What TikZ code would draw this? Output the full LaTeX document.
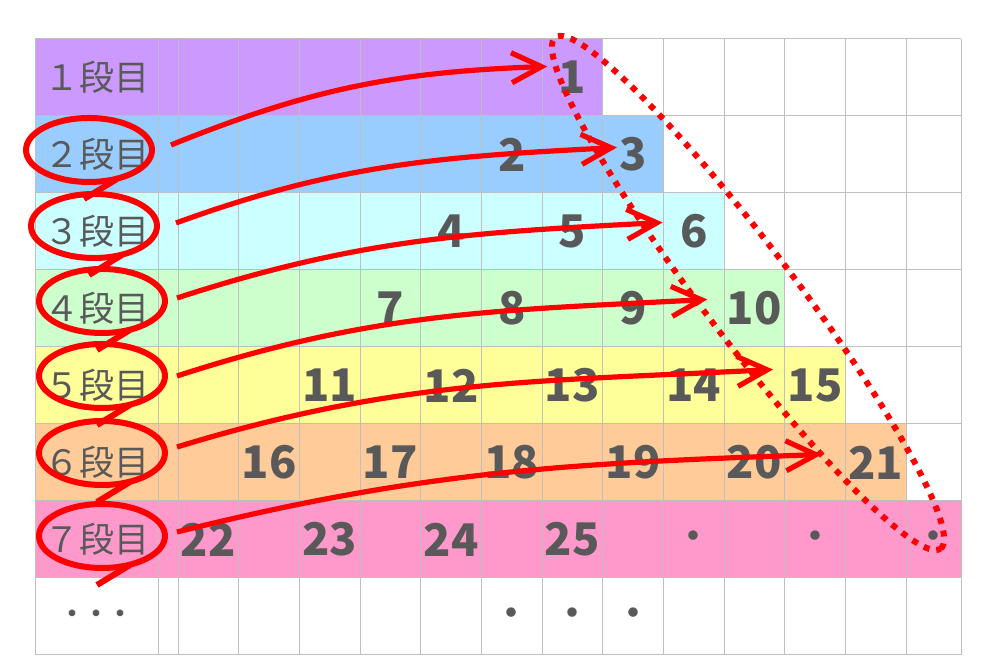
\documentclass[tikz,border=0pt]{standalone}
\usepackage{fontspec}
\setmainfont{Noto Sans CJK JP}
\usepackage{xcolor}
\usepackage{tikz}
\usetikzlibrary{shapes.geometric, arrows.meta}

\definecolor{ink}{HTML}{595959}
\definecolor{rule}{HTML}{BFBFBF}
\definecolor{dan1}{HTML}{CC99FF}
\definecolor{dan2}{HTML}{99CCFF}
\definecolor{dan3}{HTML}{CCFFFF}
\definecolor{dan4}{HTML}{CCFFCC}
\definecolor{dan5}{HTML}{FFFF99}
\definecolor{dan6}{HTML}{FFCC99}
\definecolor{dan7}{HTML}{FF99CC}

\begin{document}
\begin{tikzpicture}[
  x=0.5pt, y=0.5pt,
  gridline/.style={draw=rule, line width=0.5pt},
  lab/.style={text=ink, inner sep=0pt, font=\fontsize{17.5}{18}\selectfont},
  num/.style={text=ink, inner sep=0pt, font=\fontsize{22.5}{23}\selectfont\bfseries},
  dot/.style={text=ink, inner sep=0pt, font=\fontsize{17}{17}\selectfont\bfseries},
  ring/.style={ellipse, draw=red, line width=3pt, minimum width=63pt,
               minimum height=32pt, inner sep=0pt},
  ringtail/.style={draw=red, line width=3pt},
  arr/.style={-{Straight Barb[length=15pt, width=15pt]}, draw=red, line width=2.6pt},
  dotring/.style={draw=red, line width=3pt, dash pattern=on 3pt off 3.5pt}
]
  \useasboundingbox (-35,-17) rectangle (959,655);

  % coloured rows
  \fill[dan1] (0,539) rectangle (567.7,616);
  \fill[dan2] (0,462) rectangle (628.3,539);
  \fill[dan3] (0,385) rectangle (689,462);
  \fill[dan4] (0,308) rectangle (749.7,385);
  \fill[dan5] (0,231) rectangle (810.3,308);
  \fill[dan6] (0,154) rectangle (871,231);
  \fill[dan7] (0,77)  rectangle (926,154);

  % grid
  \foreach \y in {0,77,...,616} \draw[gridline] (0,\y) -- (926,\y);
  \foreach \x in {0,123,926} \draw[gridline] (\x,0) -- (\x,616);
  \foreach \i in {0,...,12} \draw[gridline] ({143+60.67*\i},0) -- ++(0,616);

  % row labels
  \node[lab] (l1) at (61.5,577.5) {１段目};
  \node[lab] (l2) at (61.5,500.5) {２段目};
  \node[lab] (l3) at (61.5,423.5) {３段目};
  \node[lab] (l4) at (61.5,346.5) {４段目};
  \node[lab] (l5) at (61.5,269.5) {５段目};
  \node[lab] (l6) at (61.5,192.5) {６段目};
  \node[lab] (l7) at (61.5,115.5) {７段目};
  \node[lab, font=\fontsize{12}{12}\selectfont\bfseries] (l8) at (61.5,38.5) {・・・};

  % numbers
  \node[num] (n1)  at (537.3,577.5) {1};
  \node[num] (n2)  at (476.7,500.5) {2};
  \node[num] (n3)  at (598,500.5)   {3};
  \node[num] (n4)  at (416,423.5)   {4};
  \node[num] (n5)  at (537.3,423.5) {5};
  \node[num] (n6)  at (658.7,423.5) {6};
  \node[num] (n7)  at (355.3,346.5) {7};
  \node[num] (n8)  at (476.7,346.5) {8};
  \node[num] (n9)  at (598,346.5)   {9};
  \node[num] (n10) at (719.3,346.5) {10};
  \node[num] (n11) at (294.7,269.5) {11};
  \node[num] (n12) at (416,269.5)   {12};
  \node[num] (n13) at (537.3,269.5) {13};
  \node[num] (n14) at (658.7,269.5) {14};
  \node[num] (n15) at (780,269.5)   {15};
  \node[num] (n16) at (234,192.5)   {16};
  \node[num] (n17) at (355.3,192.5) {17};
  \node[num] (n18) at (476.7,192.5) {18};
  \node[num] (n19) at (598,192.5)   {19};
  \node[num] (n20) at (719.3,192.5) {20};
  \node[num] (n21) at (840.7,192.5) {21};
  \node[num] (n22) at (173.3,115.5) {22};
  \node[num] (n23) at (294.7,115.5) {23};
  \node[num] (n24) at (416,115.5)   {24};
  \node[num] (n25) at (537.3,115.5) {25};
  \node[dot] (d1)  at (658.7,115.5) {・};
  \node[dot] (d2)  at (780,115.5)   {・};
  \node[dot] (d3)  at (898.5,115.5) {・};
  \node[dot] (d4)  at (476.7,38.5)  {・};
  \node[dot] (d5)  at (537.3,38.5)  {・};
  \node[dot] (d6)  at (598,38.5)    {・};

  % circled labels
  \node[ring] (e2) at (54,505) {};
  \node[ring] (e3) at (59,429) {};
  \node[ring] (e4) at (67,354) {};
  \node[ring] (e5) at (67,279) {};
  \node[ring] (e6) at (67,202) {};
  \node[ring] (e7) at (67,119) {};
  \foreach \e in {e2,e3,e4,e5,e6,e7}
    \draw[ringtail] ([shift={(28,-29)}]\e.center) -- ([shift={(-5,-49)}]\e.center);

  % arrows
  \draw[arr] ([shift={(16,5)}]e2.east) to[out=22, in=182] ([shift={(-25,11)}]n1.center);
  \draw[arr] ([shift={(16,3)}]e3.east) to[out=20, in=183] ([shift={(-16,7)}]n3.center);
  \draw[arr] ([shift={(9,3)}]e4.east)  to[out=18, in=183] ([shift={(-31,9)}]n6.center);
  \draw[arr] ([shift={(9,0)}]e5.east)  to[out=18, in=183] ([shift={(-47,9)}]n10.center);
  \draw[arr] ([shift={(9,6)}]e6.east)  to[out=17, in=183] ([shift={(-42,16)}]n15.center);
  \draw[arr] ([shift={(9,4)}]e7.east)  to[out=14, in=182] ([shift={(-54,8)}]n21.center);

  % diagonal
  \draw[dotring, rotate around={-53:(713,362)}] (713,362) ellipse (320 and 46);
\end{tikzpicture}
\end{document}
